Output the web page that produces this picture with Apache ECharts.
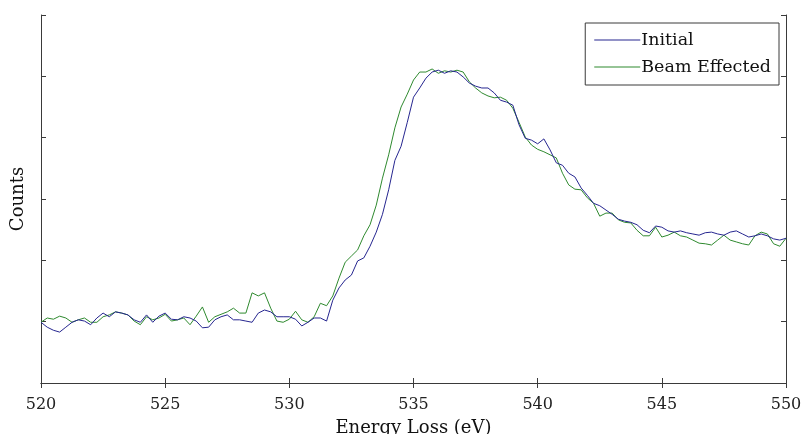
<!DOCTYPE html>
<html>
<head>
<meta charset="utf-8">
<script src="https://cdn.jsdelivr.net/npm/echarts@6/dist/echarts.min.js"></script>
<style>html,body{margin:0;padding:0;background:#fff;}#c{width:802px;height:434px;}</style>
</head>
<body>
<div id="c"></div>
<script>
// Energy loss axis (eV): 520 to 550 in 0.25 eV steps
const energyStart = 520;
const energyStep = 0.25;
const xTicks = [520, 525, 530, 535, 540, 545, 550];

// Counts (arbitrary units)
const initial = [99,91,86,83,91,99,103,101,95,106,114,108,116,114,111,103,99,111,99,109,114,104,103,108,106,101,90,91,103,108,111,103,103,101,99,114,119,116,108,108,108,104,93,99,106,106,101,135,155,168,176,199,204,223,246,275,315,363,386,425,466,481,497,507,510,505,509,507,499,489,484,481,481,473,461,458,453,421,399,396,390,398,380,359,355,342,336,318,306,293,289,282,275,267,264,262,258,249,245,256,254,248,246,248,245,243,241,245,246,243,241,246,248,243,238,240,243,240,235,233,236];
const beamEffected = [99,106,104,109,106,99,103,106,99,99,108,111,116,114,111,101,95,108,103,106,112,101,103,106,95,109,124,99,108,112,116,122,114,114,147,142,147,122,101,99,104,117,103,99,108,130,126,142,171,197,207,217,240,258,290,334,372,416,450,471,494,507,507,512,505,509,507,510,507,491,481,473,468,465,466,461,448,425,401,388,381,377,372,367,342,323,316,315,302,293,272,277,277,266,262,261,249,240,240,254,238,241,246,240,238,233,228,227,225,233,241,233,230,227,225,240,246,243,227,223,236];

function pairs(vals){ return vals.map((v,i)=>[energyStart + i*energyStep, v]); }

const font = 'DejaVu Serif';
const axisCol = '#3a3a3a';
const blue = '#262690';
const green = '#2f8a2f';
const chart = echarts.init(document.getElementById('c'), null, {renderer:'canvas'});
const commonX = {
  type:'value', min:520, max:550, interval:5,
  axisLine:{show:true, lineStyle:{color:axisCol, width:1}},
  axisTick:{show:true, inside:true, length:5, lineStyle:{color:axisCol}},
  splitLine:{show:false}
};
const commonY = {
  type:'value', min:0, max:600, interval:100,
  axisLine:{show:true, lineStyle:{color:axisCol, width:1}},
  axisTick:{show:true, inside:true, length:5, lineStyle:{color:axisCol}},
  axisLabel:{show:false},
  splitLine:{show:false}
};
chart.setOption({
  backgroundColor:'#fff',
  animation:false,
  grid:{left:41, right:16, top:15, bottom:51, containLabel:false, outerBoundsMode:'none'},
  legend:{
    right:23, top:23, orient:'vertical',
    backgroundColor:'#fff', borderColor:'#3a3a3a', borderWidth:1,
    padding:[8,8,9,9], itemGap:9, itemWidth:46, itemHeight:1,
    icon:'rect',
    textStyle:{fontFamily:font, fontSize:17.5, color:'#111', padding:[0,0,0,-4]},
    data:[{name:'Initial', itemStyle:{color:blue}}, {name:'Beam Effected', itemStyle:{color:green}}]
  },
  xAxis:[
    Object.assign({}, commonX, {
      position:'bottom',
      axisLabel:{show:true, fontFamily:font, fontSize:16, color:'#222', margin:14,
        formatter:(v)=> xTicks.includes(v) ? String(v) : ''},
      name:'Energy Loss (eV)', nameLocation:'middle', nameGap:36,
      nameTextStyle:{fontFamily:font, fontSize:18, color:'#111'}
    }),
    Object.assign({}, commonX, {position:'top', axisLabel:{show:false}})
  ],
  yAxis:[
    Object.assign({}, commonY, {
      position:'left',
      name:'Counts', nameLocation:'middle', nameGap:14,
      nameTextStyle:{fontFamily:font, fontSize:18, color:'#111'}
    }),
    Object.assign({}, commonY, {position:'right'})
  ],
  series:[
    {name:'Initial', type:'line', data:pairs(initial), symbol:'none',
     lineStyle:{color:blue, width:1}, itemStyle:{color:blue}, z:3},
    {name:'Beam Effected', type:'line', data:pairs(beamEffected), symbol:'none',
     lineStyle:{color:green, width:1}, itemStyle:{color:green}, z:2}
  ]
});
</script>
</body>
</html>
